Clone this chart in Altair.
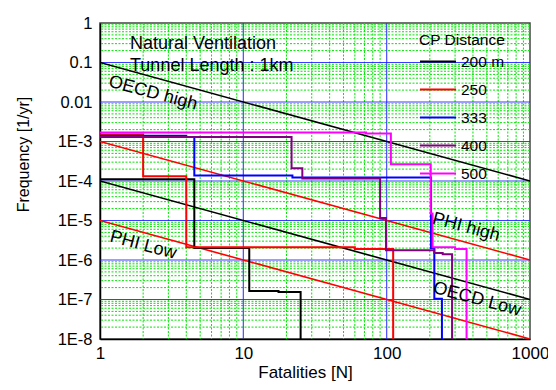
import altair as alt
import pandas as pd

# ---------------- data ----------------
SERIES = ["200 m", "250", "333", "400", "500"]
COLORS = ["#000000", "#ff0000", "#0000ff", "#800080", "#ff00ff"]

N_200 = [1, 4.55, 11.0, 17.6, 25.1]
F_200 = [1.1e-4, 2.0e-6, 1.65e-7, 1.55e-7, 1e-8]
N_250 = [1, 2.0, 4.0, 60, 111]
F_250 = [1.5e-3, 1.32e-4, 2.1e-6, 1.9e-6, 1e-8]
N_333 = [1, 4.0, 4.55, 22, 204, 215, 243]
F_333 = [1.4e-3, 1.3e-3, 1.38e-4, 1.23e-4, 2.0e-6, 1.05e-7, 1e-8]
N_400 = [1, 21.7, 25.8, 90, 99, 215, 246, 286]
F_400 = [1.3e-3, 2.1e-4, 1.15e-4, 1.15e-5, 1.77e-6, 1.5e-6, 1.39e-6, 1e-8]
N_500 = [1, 71.8, 107, 203, 209, 300, 361]
F_500 = [1.7e-3, 1.6e-3, 2.65e-4, 1.5e-5, 2.1e-6, 1.9e-6, 1e-8]

# criterion lines (F = c / N)
REF_NAMES = ["OECD high", "OECD Low", "PHI high", "PHI Low"]
REF_COLORS = ["black", "black", "red", "red"]
REF_N = [1, 1000]
REF_F_START = [1e-1, 1e-4, 1e-3, 1e-5]
REF_F_END = [1e-4, 1e-7, 1e-6, 1e-8]

# annotations along the criterion lines
ANN_TEXT = ["OECD high", "PHI Low", "PHI high", "OECD Low"]
ANN_N = [2.34, 2.0, 358, 427]
ANN_F = [1.66e-2, 2.35e-6, 6.7e-6, 1.01e-7]

INFO_TEXT = ["Natural Ventilation", "Tunnel Length : 1km"]
INFO_N = [1.62, 1.62]
INFO_F = [0.30, 0.083]

X_TICKS = [1, 10, 100, 1000]
X_TICK_LABELS = ["1", "10", "100", "1000"]
Y_TICKS = [1, 1e-1, 1e-2, 1e-3, 1e-4, 1e-5, 1e-6, 1e-7, 1e-8]
Y_TICK_LABELS = ["1", "0.1", "0.01", "1E-3", "1E-4", "1E-5", "1E-6", "1E-7", "1E-8"]

X_MAJOR_GRID = [10, 100]
Y_MAJOR_GRID = [1e-1, 1e-2, 1e-3, 1e-4, 1e-5, 1e-6, 1e-7]
X_MINOR_GRID = [k * d for d in [1, 10, 100] for k in range(2, 10)]
Y_MINOR_GRID = [k * 10.0 ** e for e in range(-8, 0) for k in range(2, 10)]

FONT = "Liberation Sans"

# ---------------- tables ----------------
rows = []
for name, ns, fs in zip(SERIES, [N_200, N_250, N_333, N_400, N_500],
                        [F_200, F_250, F_333, F_400, F_500]):
    for i, (n, f) in enumerate(zip(ns, fs)):
        rows.append({"CP": name, "N": n, "F": f, "i": i})
steps = pd.DataFrame(rows)

ref_rows = []
for name, col, f0, f1 in zip(REF_NAMES, REF_COLORS, REF_F_START, REF_F_END):
    ref_rows.append({"name": name, "col": col, "N": REF_N[0], "F": f0})
    ref_rows.append({"name": name, "col": col, "N": REF_N[1], "F": f1})
ref = pd.DataFrame(ref_rows)

ann = pd.DataFrame({"t": ANN_TEXT, "N": ANN_N, "F": ANN_F})
info = pd.DataFrame({"t": INFO_TEXT, "N": INFO_N, "F": INFO_F})

xminor = pd.DataFrame({"N": X_MINOR_GRID})
yminor = pd.DataFrame({"F": Y_MINOR_GRID})
xmajor = pd.DataFrame({"N": X_MAJOR_GRID})
ymajor = pd.DataFrame({"F": Y_MAJOR_GRID})


def label_expr(values, labels):
    expr = "''"
    for v, l in zip(values, labels):
        expr = f"abs(log(datum.value) - log({v})) < 0.01 ? '{l}' : ({expr})"
    return expr


xscale = alt.Scale(type="log", domain=[1, 1000], nice=False)
yscale = alt.Scale(type="log", domain=[1e-8, 1], nice=False)

xaxis = alt.Axis(values=X_TICKS, labelExpr=label_expr(X_TICKS, X_TICK_LABELS),
                 title="Fatalities [N]", grid=False, ticks=False,
                 labelFlush=False, labelFontSize=17, labelFont=FONT,
                 labelColor="black", titleFont=FONT, titleFontSize=17,
                 titleFontWeight="normal", titleColor="black",
                 labelPadding=6, titlePadding=3, titleX=205,
                 domainColor="black", domainWidth=1.5, labelOverlap=False)
yaxis = alt.Axis(values=Y_TICKS, labelExpr=label_expr(Y_TICKS, Y_TICK_LABELS),
                 title="Frequency [1/yr]", grid=False, ticks=False,
                 labelFlush=False, labelFontSize=16.5, labelFont=FONT,
                 labelColor="black", titleFont=FONT, titleFontSize=16,
                 titleFontWeight="normal", titleColor="black",
                 labelPadding=8, titleX=-77, titleY=131, titleBaseline="middle",
                 titleAlign="center", titleAngle=-90,
                 domainColor="black", domainWidth=1.5, labelOverlap=False)


def X():
    return alt.X("N:Q", scale=xscale, axis=xaxis)


def Y():
    return alt.Y("F:Q", scale=yscale, axis=yaxis)


grid_minor_v = alt.Chart(xminor).mark_rule(color="#00e600", strokeWidth=1,
                                            strokeDash=[2, 1.5]).encode(x=X())
grid_minor_h = alt.Chart(yminor).mark_rule(color="#00e600", strokeWidth=1,
                                            strokeDash=[2, 1.5]).encode(y=Y())
grid_major_v = alt.Chart(xmajor).mark_rule(color="#2a2aff", strokeWidth=1.2,
                                            opacity=0.85).encode(x=X())
grid_major_h = alt.Chart(ymajor).mark_rule(color="#1a1aff", strokeWidth=1.2,
                                            opacity=0.85).encode(y=Y())

ref_black = alt.Chart(ref[ref["col"] == "black"]).mark_line(
    color="black", strokeWidth=1.6, clip=True).encode(x=X(), y=Y(), detail="name:N")
ref_red = alt.Chart(ref[ref["col"] == "red"]).mark_line(
    color="red", strokeWidth=1.6, clip=True).encode(x=X(), y=Y(), detail="name:N")

step_lines = alt.Chart(steps).mark_line(interpolate="step-after", strokeWidth=2,
                                         clip=True).encode(
    x=X(), y=Y(),
    order="i:Q",
    color=alt.Color("CP:N", scale=alt.Scale(domain=SERIES, range=COLORS),
                    legend=alt.Legend(title="CP Distance", orient="none",
                                      legendX=319, legendY=10,
                                      symbolType="stroke", symbolSize=1296,
                                      symbolStrokeWidth=2, rowPadding=-17,
                                      titlePadding=-6, labelOffset=4,
                                      titleFont=FONT, titleFontSize=15.5,
                                      titleFontWeight="normal", titleColor="black",
                                      labelFont=FONT, labelFontSize=15.5,
                                      labelColor="black")),
)

ann_text = alt.Chart(ann).mark_text(angle=15, fontSize=18, font=FONT,
                                    align="center", baseline="middle",
                                    color="black").encode(x=X(), y=Y(), text="t:N")
info_text = alt.Chart(info).mark_text(fontSize=18, font=FONT, align="left",
                                      baseline="middle", color="black").encode(
    x=X(), y=Y(), text="t:N")

chart = alt.layer(grid_minor_v, grid_minor_h, grid_major_v, grid_major_h,
                  ref_black, ref_red, step_lines, ann_text, info_text).properties(
    width=430, height=316,
    autosize=alt.AutoSizeParams(type="none"),
    padding={"left": 92, "top": 15, "right": 18, "bottom": 43},
    background="white",
).configure_view(stroke="#444444", strokeWidth=1.5)

chart.save("out.html", embed_options={"renderer": "svg", "actions": False})
